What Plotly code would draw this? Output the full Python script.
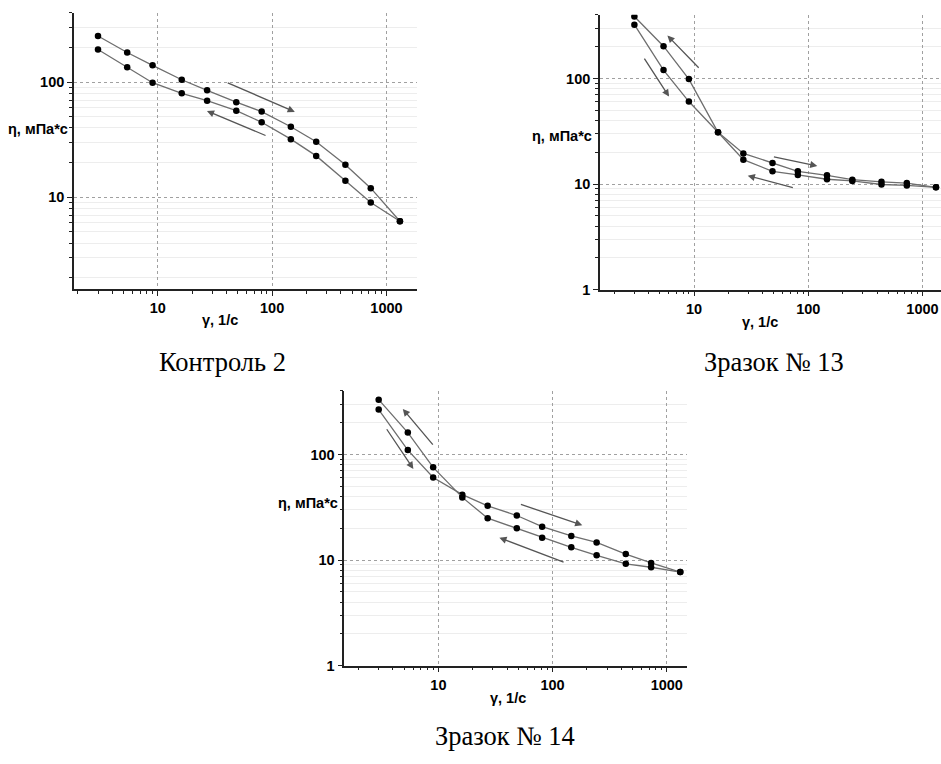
import math
import plotly.graph_objects as go

# Shear rates of the viscometer, 1/s
SHEAR = [3, 5.4, 9, 16.2, 27, 48.6, 81, 145.8, 243, 437.4, 729, 1312]

# Viscosity, mPa*s: increasing shear sweep ("up") and decreasing sweep ("down")
CTRL2_UP = [252, 181, 140, 105, 85, 67, 55.5, 41, 30.4, 19.2, 12.0, 6.2]
CTRL2_DOWN = [192, 135, 99, 80, 69, 56.6, 44.9, 32, 22.9, 13.9, 9.0, 6.2]

S13_UP = [323, 120, 60.4, 30.9, 19.5, 15.8, 13.2, 12.1, 11.0, 10.5, 10.2, 9.3]
S13_DOWN = [386, 202, 98.5, 30.9, 17.0, 13.2, 12.2, 11.1, 10.7, 9.9, 9.7, 9.3]

S14_UP = [266, 110, 60.4, 41.6, 32.6, 26.4, 20.7, 16.9, 14.7, 11.4, 9.4, 7.7]
S14_DOWN = [330, 161, 75.5, 39.2, 24.9, 20.0, 16.3, 13.2, 11.1, 9.2, 8.55, 7.7]

CAPTIONS = ["Контроль 2", "Зразок № 13", "Зразок № 14"]
X_TITLE = "γ, 1/с"
Y_TITLE = "η, мПа*с"
X_TICKS = [10, 100, 1000]
Y_TICKS_1 = [10, 100]
Y_TICKS_23 = [1, 10, 100]

# Sweep-direction arrows: (tail shear, tail viscosity, head shear, head viscosity)
ARROWS_1 = [(39.7, 100, 158, 55.2), (90.3, 34, 26.9, 56.2)]
ARROWS_2 = [(11.3, 122, 5.84, 255), (3.6, 159, 6.04, 67.3),
            (48.5, 18.2, 120, 14.8), (75.5, 9.18, 29.5, 12.0)]
ARROWS_3 = [(9.17, 120, 4.88, 270), (3.46, 179, 6.04, 72.8),
            (51.2, 34, 182, 21.4), (128.6, 9.44, 34.2, 16.3)]

W, H = 941, 764


def px_x(p):
    return p / W


def px_y(p):
    return 1 - p / H


LINE_COLOR = "#6e6e6e"
ARROW_COLOR = "#555555"
AX_FONT = dict(family="Liberation Sans, Arial", size=14.5, color="black", weight="bold")

MINOR_VALS = [m * 10 ** e for e in range(-1, 4) for m in range(2, 10)]


def x_axis(domain, rng, anchor):
    return dict(
        type="log", domain=domain, range=rng, anchor=anchor,
        tickmode="array", tickvals=X_TICKS, ticktext=[str(v) for v in X_TICKS],
        showline=True, linecolor="#222", linewidth=1.6,
        ticks="outside", ticklen=5, tickwidth=1.4, tickcolor="#222",
        tickfont=AX_FONT,
        showgrid=True, gridcolor="#a0a0a0", gridwidth=1, griddash="dot",
        minor=dict(tickmode="array", tickvals=MINOR_VALS, ticks="outside",
                   ticklen=3, tickwidth=1.2, tickcolor="#222", showgrid=False),
        zeroline=False, mirror=False,
    )


def y_axis(domain, rng, anchor, ticks):
    return dict(
        type="log", domain=domain, range=rng, anchor=anchor,
        tickmode="array", tickvals=ticks, ticktext=[str(v) for v in ticks],
        showline=True, linecolor="#222", linewidth=1.6,
        ticks="outside", ticklen=5, tickwidth=1.4, tickcolor="#222",
        tickfont=AX_FONT,
        showgrid=True, gridcolor="#a0a0a0", gridwidth=1, griddash="dot",
        minor=dict(tickmode="array", tickvals=MINOR_VALS, ticks="outside",
                   ticklen=3, tickwidth=1.2, tickcolor="#222",
                   showgrid=True, gridcolor="#ededed", gridwidth=1, griddash="solid"),
        zeroline=False, mirror=False,
    )


fig = go.Figure()

panels = [
    ("x", "y", CTRL2_UP, CTRL2_DOWN, ARROWS_1),
    ("x2", "y2", S13_UP, S13_DOWN, ARROWS_2),
    ("x3", "y3", S14_UP, S14_DOWN, ARROWS_3),
]

annotations = []
for xa, ya, up, down, arrows in panels:
    for series in (up, down):
        fig.add_trace(go.Scatter(
            x=SHEAR, y=series, xaxis=xa, yaxis=ya, mode="lines+markers",
            line=dict(color=LINE_COLOR, width=1.3),
            marker=dict(color="black", size=6.5),
            showlegend=False, hoverinfo="skip",
        ))
    for tx, ty, hx, hy in arrows:
        annotations.append(dict(
            xref=xa, yref=ya, axref=xa, ayref=ya,
            x=math.log10(hx), y=math.log10(hy),
            ax=math.log10(tx), ay=math.log10(ty),
            text="", showarrow=True, arrowhead=2, arrowsize=1.1,
            arrowwidth=1.3, arrowcolor=ARROW_COLOR, standoff=0, startstandoff=0,
        ))

# Axis titles (y title is horizontal, left of the axis)
title_font = dict(family="Liberation Sans, Arial", size=14.5, color="black", weight="bold")
for (tx, ty), (yx, yy) in [((220, 323), (70, 130)),
                           ((760, 325), (594, 137)),
                           ((508, 705), (340, 508))]:
    annotations.append(dict(xref="paper", yref="paper", x=px_x(tx), y=px_y(ty),
                            text=X_TITLE, showarrow=False, font=title_font,
                            xanchor="center", yanchor="middle"))
    annotations.append(dict(xref="paper", yref="paper", x=px_x(yx), y=px_y(yy),
                            text=Y_TITLE, showarrow=False, font=title_font,
                            xanchor="right", yanchor="middle"))

# Panel captions
cap_font = dict(family="Liberation Serif, Times New Roman", size=26.5, color="black")
for text, (cx, cy) in zip(CAPTIONS, [(222, 366), (774, 366), (505, 744)]):
    annotations.append(dict(xref="paper", yref="paper", x=px_x(cx), y=px_y(cy),
                            text=text, showarrow=False, font=cap_font,
                            xanchor="center", yanchor="middle"))

x_left_23 = math.log10(1.5)
fig.update_layout(
    width=W, height=H,
    margin=dict(l=0, r=0, t=0, b=0),
    paper_bgcolor="white", plot_bgcolor="white",
    xaxis=x_axis([px_x(74), px_x(417)], [math.log10(1.85), math.log10(1850)], "y"),
    yaxis=y_axis([px_y(292), px_y(13)], [math.log10(1.6), math.log10(400)], "x", Y_TICKS_1),
    xaxis2=x_axis([px_x(600), 1.0], [x_left_23, x_left_23 + 341 / 114.2], "y2"),
    yaxis2=y_axis([px_y(292.7), px_y(15)], [0, math.log10(400)], "x2", Y_TICKS_23),
    xaxis3=x_axis([px_x(344.3), px_x(686.7)], [x_left_23, x_left_23 + 342.4 / 114.2], "y3"),
    yaxis3=y_axis([px_y(672.7), px_y(395)], [0, math.log10(400)], "x3", Y_TICKS_23),
    annotations=annotations,
)

fig.write_html("out.html")
